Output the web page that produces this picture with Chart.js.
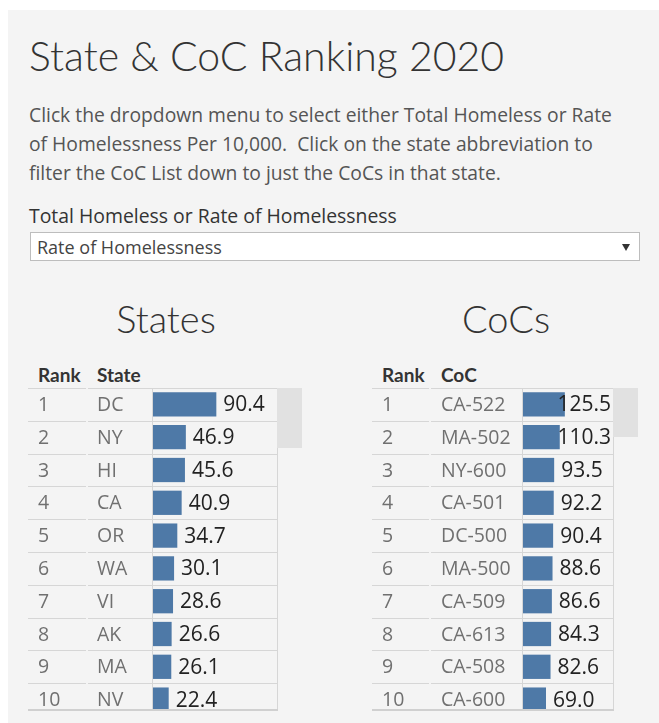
<!DOCTYPE html>
<html>
<head>
<meta charset="utf-8">
<script src="https://cdn.jsdelivr.net/npm/chart.js@4.4.1/dist/chart.umd.min.js"></script>
<style>
    body { margin: 0; background: #fff; font-family: "Open Sans", "Noto Sans", sans-serif; }
    #panel { position: absolute; left: 8px; top: 10px; width: 651px; height: 713px; background: #f4f4f4; }
    .abs { position: absolute; white-space: nowrap; }
    #title { left: 29px; top: 31px; font-family: Lato, sans-serif; font-size: 41px; font-weight: 300; color: #333; }
    #intro { left: 29px; top: 100px; font-size: 19.3px; line-height: 29px; color: #555; }
    #ddLabel { left: 29px; top: 202px; font-size: 19.4px; color: #333; }
    #dropdown { position: absolute; left: 30px; top: 232px; width: 608px; height: 27px; background: #fff; border: 1px solid #bdbdbd; }
    #ddText { left: 6px; top: 2px; font-size: 18px; color: #444; }
    #ddArrow { position: absolute; right: 9px; top: 11px; width: 0; height: 0;
        border-left: 4.5px solid transparent; border-right: 4.5px solid transparent; border-top: 7px solid #333; }
    .heading { top: 295px; font-family: Lato, sans-serif; font-size: 38px; font-weight: 300; color: #333; text-align: center; width: 200px; }
    .colHead { top: 363px; font-family: Lato, sans-serif; font-size: 19px; font-weight: 700; color: #333; }
    .clip { position: absolute; top: 388px; height: 321px; overflow: hidden; border-bottom: 2px solid #d0d0d0; }
    .scroll { position: absolute; top: 388px; width: 25px; background: #e1e1e1; }
</style>
</head>
<body>
<div id="panel"></div>
<div class="abs" id="title">State &amp; CoC Ranking 2020</div>
<div class="abs" id="intro">Click the dropdown menu to select either Total Homeless or Rate<br>of Homelessness Per 10,000.&nbsp; Click on the state abbreviation to<br>filter the CoC List down to just the CoCs in that state.</div>
<div class="abs" id="ddLabel">Total Homeless or Rate of Homelessness</div>
<div id="dropdown"><div class="abs" id="ddText">Rate of Homelessness</div><div id="ddArrow"></div></div>

<div class="abs heading" style="left: 66px;">States</div>
<div class="abs heading" style="left: 406px;">CoCs</div>

<div class="abs colHead" style="left: 38px;">Rank</div>
<div class="abs colHead" style="left: 97px;">State</div>
<div class="abs colHead" style="left: 382px;">Rank</div>
<div class="abs colHead" style="left: 441px;">CoC</div>

<div class="clip" style="left: 28px; width: 250px;"><canvas id="states-chart" width="250" height="328"></canvas></div>
<div class="clip" style="left: 372px; width: 242px;"><canvas id="cocs-chart" width="242" height="328"></canvas></div>
<div class="scroll" style="left: 277px; height: 60px;"></div>
<div class="scroll" style="left: 613px; height: 49px;"></div>

<script>
// ================================
// DATA
// ================================
const ranks = [1, 2, 3, 4, 5, 6, 7, 8, 9, 10];

const stateNames = ['DC', 'NY', 'HI', 'CA', 'OR', 'WA', 'VI', 'AK', 'MA', 'NV'];
const stateRates = [90.4, 46.9, 45.6, 40.9, 34.7, 30.1, 28.6, 26.6, 26.1, 22.4];

const cocNames = ['CA-522', 'MA-502', 'NY-600', 'CA-501', 'DC-500', 'MA-500', 'CA-509', 'CA-613', 'CA-508', 'CA-600'];
const cocRates = [125.5, 110.3, 93.5, 92.2, 90.4, 88.6, 86.6, 84.3, 82.6, 69.0];

// Colors
const colors = {
    bar: '#4e79a7',
    grid: '#d6d6d6',
    rankText: '#707070',
    valueText: '#222222'
};

/**
 * Draws the table part: row lines, rank and name columns, value labels
 */
const tablePlugin = {
    id: 'rankTable',
    afterDatasetsDraw(chart, args, opts) {
        const ctx = chart.ctx;
        const area = chart.chartArea;
        const yScale = chart.scales.y;
        const meta = chart.getDatasetMeta(0);
        const n = chart.data.labels.length;
        const rowH = (area.bottom - area.top) / n;

        ctx.save();
        ctx.strokeStyle = colors.grid;
        ctx.lineWidth = 1;

        // horizontal row lines
        for (let i = 0; i <= n; i++) {
            const y = Math.round(area.top + i * rowH) + 0.5;
            ctx.beginPath();
            ctx.moveTo(0, y); ctx.lineTo(opts.gapX - 1, y);
            ctx.moveTo(opts.gapX + 1, y); ctx.lineTo(area.left - 1, y);
            ctx.moveTo(area.left, y); ctx.lineTo(area.right, y);
            ctx.stroke();
        }

        // vertical borders of the bar cell
        ctx.beginPath();
        ctx.moveTo(area.left - 0.5, area.top); ctx.lineTo(area.left - 0.5, area.bottom);
        ctx.moveTo(area.right + 0.5, area.top); ctx.lineTo(area.right + 0.5, area.bottom);
        ctx.stroke();

        // rank + name columns
        ctx.textBaseline = 'middle';
        ctx.textAlign = 'left';
        ctx.fillStyle = colors.rankText;
        ctx.font = '19.5px "Open Sans", "Noto Sans", sans-serif';
        chart.data.labels.forEach((name, i) => {
            const y = yScale.getPixelForValue(i) + 1;
            ctx.fillText(String(opts.ranks[i]), 10, y);
            ctx.fillText(name, 69, y);
        });

        // value labels, kept inside the cell
        ctx.fillStyle = colors.valueText;
        ctx.font = '21px "Open Sans", "Noto Sans", sans-serif';
        meta.data.forEach((bar, i) => {
            const text = chart.data.datasets[0].data[i].toFixed(1);
            const w = ctx.measureText(text).width;
            const x = Math.min(bar.x + 7, area.right - 2 - w);
            ctx.fillText(text, x, bar.y + 1);
        });
        ctx.restore();
    }
};

/**
 * Render one ranking table as a horizontal bar chart
 */
function renderRankChart(canvasId, names, values, xMax, padLeft, gapX) {
    const ctx = document.getElementById(canvasId).getContext('2d');
    return new Chart(ctx, {
        type: 'bar',
        data: {
            labels: names,
            datasets: [{
                data: values,
                backgroundColor: colors.bar,
                borderWidth: 0,
                categoryPercentage: 1,
                barPercentage: 0.74
            }]
        },
        options: {
            indexAxis: 'y',
            responsive: false,
            animation: false,
            layout: {
                padding: { left: padLeft, right: 1, top: 0, bottom: 0 }
            },
            plugins: {
                legend: { display: false },
                tooltip: { enabled: false },
                rankTable: { ranks: ranks, gapX: gapX }
            },
            scales: {
                x: { display: false, min: 0, max: xMax },
                y: { display: false }
            }
        },
        plugins: [tablePlugin]
    });
}

renderRankChart('states-chart', stateNames, stateRates, 177, 125, 59);
renderRankChart('cocs-chart', cocNames, cocRates, 270, 151, 58);
</script>
</body>
</html>
